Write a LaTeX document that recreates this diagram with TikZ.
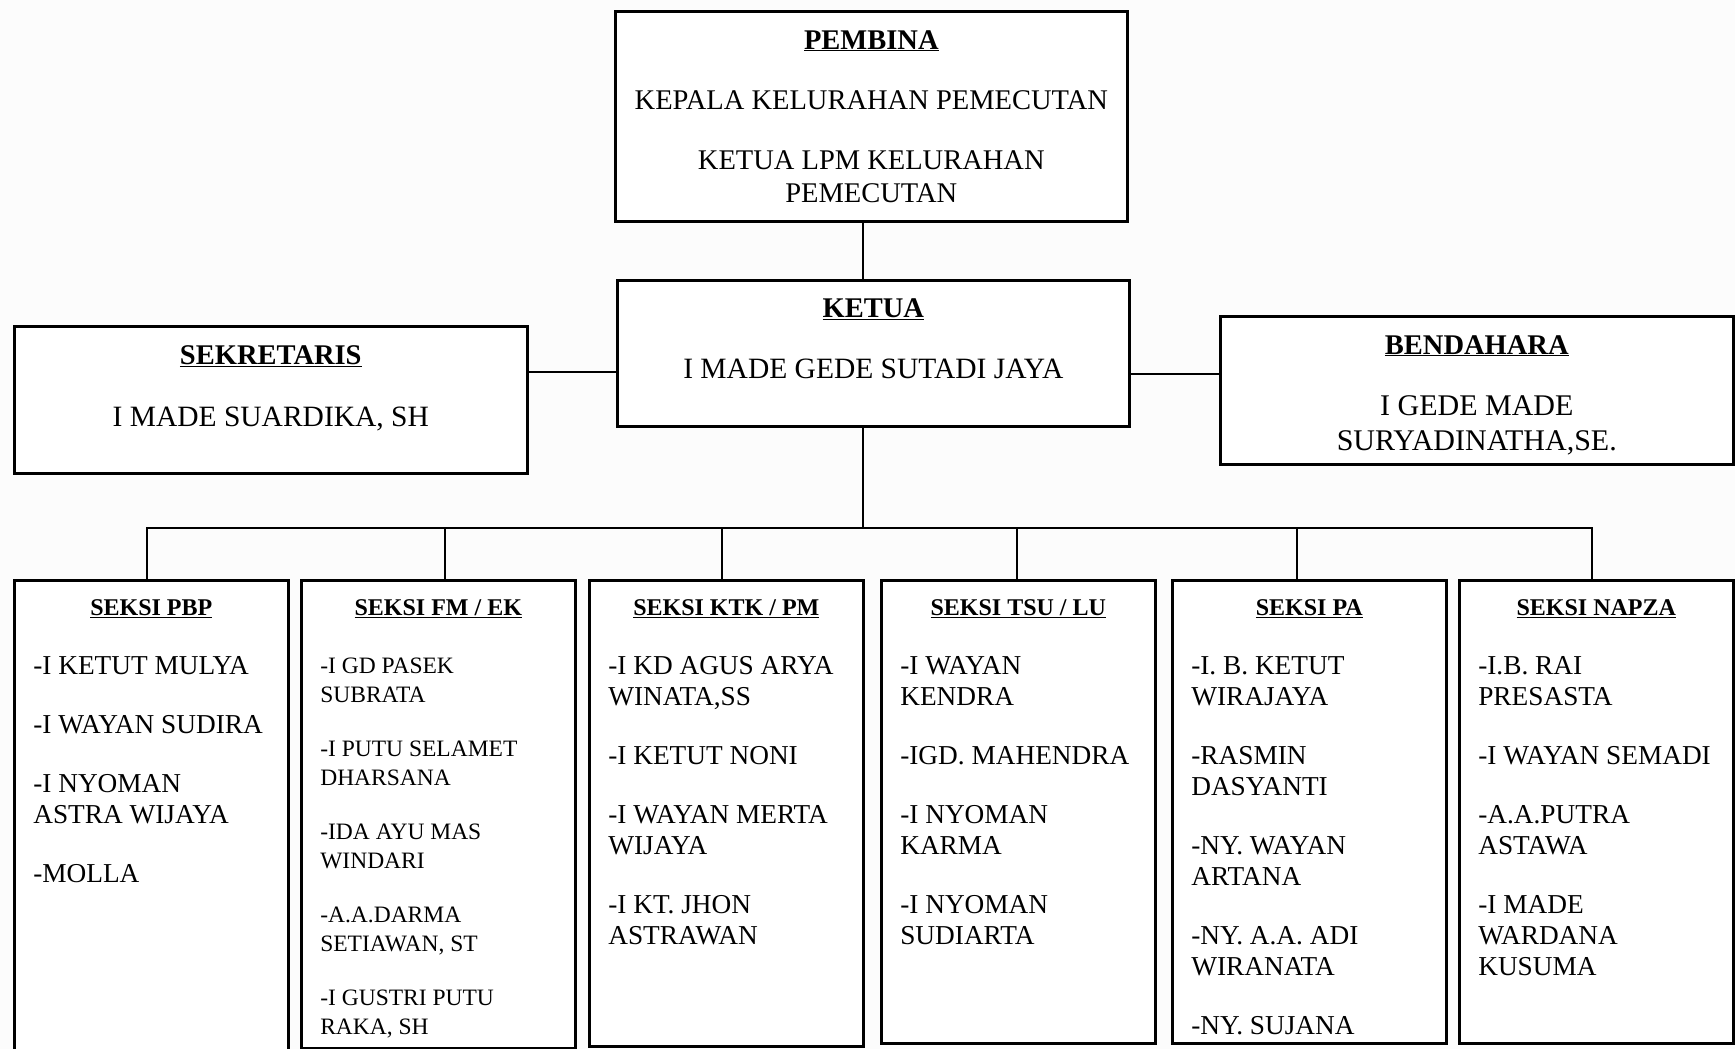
\documentclass[tikz,border=0pt]{standalone}
\usepackage{fontspec}
\setmainfont{Liberation Serif}
\newcommand{\hdr}[1]{\underline{\textbf{#1}}}
\tikzset{
  kotak/.style={draw, line width=2.6pt, fill=white, inner ysep=0pt, anchor=north west},
  atas/.style={kotak, inner xsep=10pt, font=\fontsize{28.5}{33}\selectfont},
  seksi/.style={kotak, inner xsep=19pt, font=\fontsize{27.3}{31}\selectfont},
  garis/.style={line width=2.2pt}
}

\begin{document}
\begin{tikzpicture}[x=1pt,y=-1pt]
\useasboundingbox (0,0) rectangle (1735,1049);
\fill[gray!2] (0,0) rectangle (1735,1049);

% pengurus inti
\node[atas] (pembina) at (614,10) {\parbox[c][210pt][t]{492pt}{\centering\vspace*{19pt}\hdr{PEMBINA}\par\vspace{27pt}
KEPALA KELURAHAN PEMECUTAN\\[27pt]KETUA LPM KELURAHAN\\PEMECUTAN}};
\node[atas] (ketua) at (616,279) {\parbox[c][146pt][t]{492pt}{\centering\vspace*{18pt}\hdr{KETUA}\par\vspace{28pt}
{\fontsize{29.5}{33}\selectfont I MADE GEDE SUTADI JAYA}}};
\node[atas] (sekretaris) at (13,325) {\parbox[c][147pt][t]{493pt}{\centering\vspace*{19pt}\hdr{SEKRETARIS}\par\vspace{29pt}
{\fontsize{29.5}{33}\selectfont I MADE SUARDIKA, SH}}};
\node[atas] (bendahara) at (1219,315) {\parbox[c][148pt][t]{493pt}{\centering\vspace*{19pt}\hdr{BENDAHARA}\par\vspace{28pt}
{\fontsize{30}{33}\selectfont I GEDE MADE\\[2pt]SURYADINATHA,SE.}}};

% seksi-seksi
\node[seksi] (pbp) at (13,579) {\parbox[c][500pt][t]{236pt}{\centering\vspace*{19pt}{\fontsize{24}{31}\selectfont\hdr{SEKSI PBP}}\par\vspace{28pt}\raggedright
-I KETUT MULYA\\[28pt]
-I WAYAN SUDIRA\\[28pt]
-I NYOMAN\\ASTRA WIJAYA\\[28pt]
-MOLLA}};
\node[seksi, font=\fontsize{23.5}{29}\selectfont] (fm) at (300,579) {\parbox[c][468pt][t]{236pt}{\centering\vspace*{19pt}{\fontsize{24}{29}\selectfont\hdr{SEKSI FM / EK}}\par\vspace{29pt}\raggedright
-I GD PASEK\\SUBRATA\\[25pt]
-I PUTU SELAMET\\DHARSANA\\[25pt]
-IDA AYU MAS\\WINDARI\\[25pt]
-A.A.DARMA\\SETIAWAN, ST\\[25pt]
-I GUSTRI PUTU\\RAKA, SH}};
\node[seksi] (ktk) at (588,579) {\parbox[c][466pt][t]{236pt}{\centering\vspace*{19pt}{\fontsize{24}{31}\selectfont\hdr{SEKSI KTK / PM}}\par\vspace{28pt}\raggedright
-I KD AGUS ARYA\\WINATA,SS\\[28pt]
-I KETUT NONI\\[28pt]
-I WAYAN MERTA\\WIJAYA\\[28pt]
-I KT. JHON\\ASTRAWAN}};
\node[seksi] (tsu) at (880,579) {\parbox[c][463pt][t]{236pt}{\centering\vspace*{19pt}{\fontsize{24}{31}\selectfont\hdr{SEKSI TSU / LU}}\par\vspace{28pt}\raggedright
-I WAYAN\\KENDRA\\[28pt]
-IGD. MAHENDRA\\[28pt]
-I NYOMAN\\KARMA\\[28pt]
-I NYOMAN\\SUDIARTA}};
\node[seksi] (pa) at (1171,579) {\parbox[c][463pt][t]{236pt}{\centering\vspace*{19pt}{\fontsize{24}{31}\selectfont\hdr{SEKSI PA}}\par\vspace{28pt}\raggedright
-I. B. KETUT\\WIRAJAYA\\[28pt]
-RASMIN\\DASYANTI\\[28pt]
-NY. WAYAN\\ARTANA\\[28pt]
-NY. A.A. ADI\\WIRANATA\\[28pt]
-NY. SUJANA}};
\node[seksi] (napza) at (1458,579) {\parbox[c][463pt][t]{236pt}{\centering\vspace*{19pt}{\fontsize{24}{31}\selectfont\hdr{SEKSI NAPZA}}\par\vspace{28pt}\raggedright
-I.B. RAI\\PRESASTA\\[28pt]
-I WAYAN SEMADI\\[28pt]
-A.A.PUTRA\\ASTAWA\\[28pt]
-I MADE\\WARDANA\\KUSUMA}};

% garis penghubung
\draw[garis] ([xshift=-8pt]pembina.south) coordinate (p1) -- (p1 |- ketua.north);
\coordinate (kiri) at ([yshift=-19pt]ketua.west);
\draw[garis] (kiri) -- (kiri -| sekretaris.east);
\coordinate (kanan) at ([yshift=-21pt]ketua.east);
\draw[garis] (kanan) -- (kanan -| bendahara.west);
\coordinate (turun) at ([xshift=-10pt]ketua.south);
\coordinate (bus) at (turun |- 0,528);
\draw[garis] (turun) -- (bus);
\coordinate (ujungkiri) at ([xshift=-4pt]pbp.north);
\coordinate (ujungkanan) at ([xshift=-4pt]napza.north);
\draw[garis] (ujungkiri) |- (bus) -| (ujungkanan);
\foreach \s/\dx in {fm/7,ktk/-4,tsu/-1,pa/-12}{
  \coordinate (t) at ([xshift=\dx pt]\s.north);
  \draw[garis] (t) -- (t |- bus);
}
\end{tikzpicture}
\end{document}
